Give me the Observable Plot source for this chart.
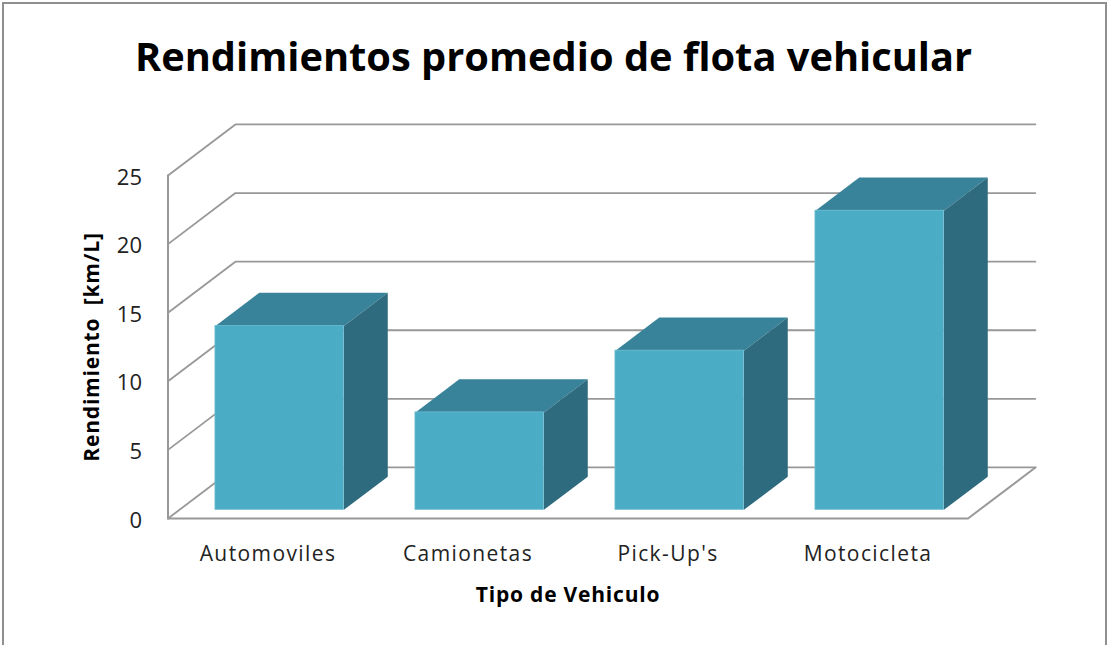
<!DOCTYPE html>
<html lang="es">
<head>
<meta charset="utf-8">
<script src="https://cdn.jsdelivr.net/npm/d3@7"></script>
<script src="https://cdn.jsdelivr.net/npm/@observablehq/plot@0.6"></script>
<style>
html,body{margin:0;padding:0;background:#fff;}
#frame{position:relative;width:1107px;height:645px;box-sizing:border-box;overflow:hidden;}
#frame::before{content:"";position:absolute;left:2px;top:2px;width:1101px;height:660px;border:2px solid #8f8f8f;box-sizing:content-box;}
h1{position:relative;margin:0;height:100px;width:1107px;text-align:center;font:700 39.8px/111px "Open Sans",sans-serif;color:#000;}
#chart{position:relative;height:545px;}
svg{display:block;}
</style>
</head>
<body>
<div id="frame">
<h1>Rendimientos promedio de flota vehicular</h1>
<div id="chart"></div>
</div>
<script>
const categories = ["Automoviles", "Camionetas", "Pick-Up's", "Motocicleta"];
const values = [13.4, 7.1, 11.6, 21.8];
const yTicks = [0, 5, 10, 15, 20, 25];

// Oblique projection of the 3-D chart: depth d (0 front, 1 back) shifts data coordinates
const shiftX = 0.337, shiftY = 3.72;
const P = (cat, val, d) => ({x: cat + d * shiftX, y: val + d * shiftY});
const barLead = 0.18, barWidth = 0.6425, depthFront = 0.17, depthBack = 0.82;
const nCat = categories.length, yMax = yTicks[yTicks.length - 1];

const wallLines = yTicks.flatMap(v => [
  {...P(0, v, 0), id: v}, {...P(0, v, 1), id: v}, {...P(nCat, v, 1), id: v}
]);
const floorLine = [P(0, 0, 0), P(nCat, 0, 0), P(nCat, 0, 1)];
const axisLine = [P(0, 0, 0), P(0, yMax, 0)];

const bars = values.map((v, i) => ({i, v, a: i + barLead, b: i + barLead + barWidth}));
const topFaces = bars.flatMap(({i, v, a, b}) => [
  P(a, v, depthFront), P(b, v, depthFront), P(b, v, depthBack), P(a, v, depthBack)
].map(p => ({...p, id: i})));
const sideFaces = bars.flatMap(({i, v, b}) => [
  P(b, 0, depthFront), P(b, v, depthFront), P(b, v, depthBack), P(b, 0, depthBack)
].map(p => ({...p, id: i})));
const frontFaces = bars.map(({v, a, b}) => {
  const lo = P(a, 0, depthFront), hi = P(b, v, depthFront);
  return {x1: lo.x, x2: hi.x, y1: lo.y, y2: hi.y};
});

const gridColor = "#989898";
const plot = Plot.plot({
  width: 1107,
  height: 545,
  marginLeft: 167.5,
  marginRight: 139.5,
  marginTop: 75,
  marginBottom: 127,
  style: {background: "transparent", color: "#222", fontFamily: "'Open Sans', sans-serif"},
  x: {domain: [0, nCat]},
  y: {domain: [0, yMax]},
  marks: [
    Plot.line(wallLines, {x: "x", y: "y", z: "id", stroke: gridColor, strokeWidth: 1.8}),
    Plot.line(floorLine, {x: "x", y: "y", stroke: gridColor, strokeWidth: 2}),
    Plot.line(axisLine, {x: "x", y: "y", stroke: gridColor, strokeWidth: 2}),
    Plot.line(topFaces, {x: "x", y: "y", z: "id", fill: "#38839A", stroke: null}),
    Plot.line(sideFaces, {x: "x", y: "y", z: "id", fill: "#2F6B7F", stroke: null}),
    Plot.rectY(frontFaces, {x1: "x1", x2: "x2", y1: "y1", y2: "y2", fill: "#4BACC6", stroke: "#6dbcd0", strokeWidth: 0.8}),
    Plot.axisY({
      ticks: yTicks, tickSize: 0, tickPadding: 26, fontSize: 22, dy: 2,
      label: "Rendimiento  [km/L]", labelAnchor: "center", labelArrow: "none", labelOffset: 84
    }),
    Plot.axisX({
      ticks: categories.map((_, i) => i + 0.5), tickFormat: t => categories[Math.floor(t)],
      tickSize: 0, tickPadding: 28, fontSize: 21,
      label: "Tipo de Vehiculo", labelAnchor: "center", labelArrow: "none", labelOffset: 83
    })
  ]
});
const svg = d3.select(plot);
svg.selectAll("text")
  .filter(function(){return categories.includes(this.textContent);})
  .style("letter-spacing", "1.4px");
svg.selectAll("text")
  .filter(function(){return /Tipo|Rendimiento/.test(this.textContent);})
  .style("font-weight", "700").style("font-size", "21px").style("letter-spacing", "0.8px")
  .style("fill", "#000").style("white-space", "pre");
document.getElementById("chart").append(plot);
</script>
</body>
</html>
